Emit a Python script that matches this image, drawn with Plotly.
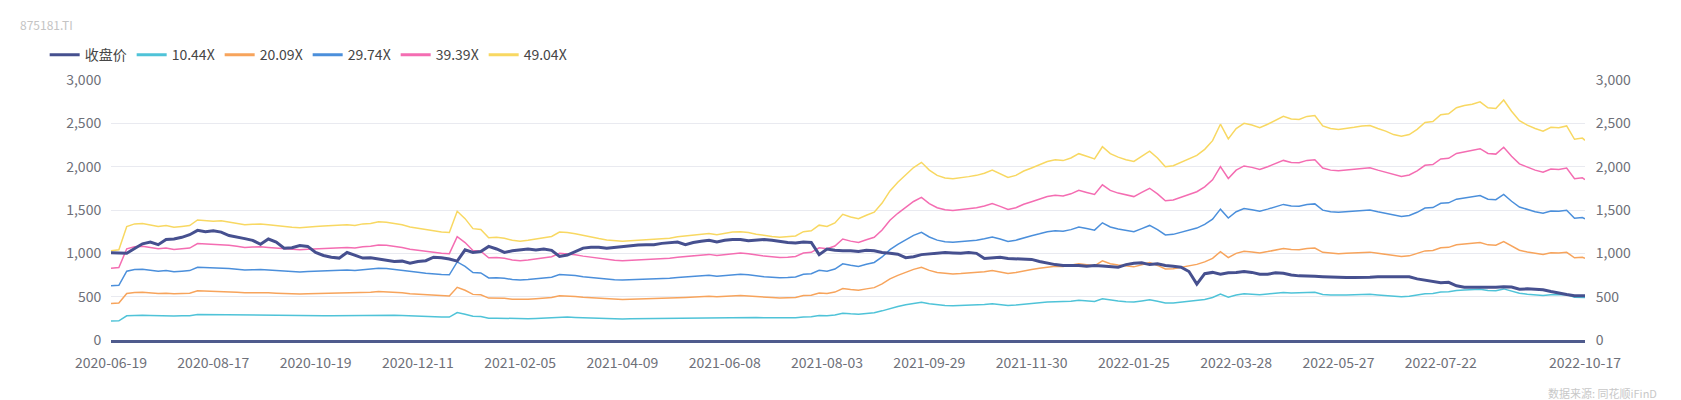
import pandas as pd
import plotly.graph_objects as go

# ---------------- data ----------------
title_text = "875181.TI"
source_text = "数据来源: 同花顺iFinD"

series_names = ["收盘价", "10.44X", "20.09X", "29.74X", "39.39X", "49.04X"]
pe_multiples = [10.44, 20.09, 29.74, 39.39, 49.04]

# Chinese market holidays (weekdays) inside the window
holidays = [
    "2020-06-25", "2020-06-26", "2020-10-01", "2020-10-02", "2020-10-05", "2020-10-06",
    "2020-10-07", "2020-10-08", "2021-01-01", "2021-02-11", "2021-02-12", "2021-02-15",
    "2021-02-16", "2021-02-17", "2021-04-05", "2021-05-03", "2021-05-04", "2021-05-05",
    "2021-06-14", "2021-09-20", "2021-09-21", "2021-10-01", "2021-10-04", "2021-10-05",
    "2021-10-06", "2021-10-07", "2022-01-03", "2022-01-31", "2022-02-01", "2022-02-02",
    "2022-02-03", "2022-02-04", "2022-04-04", "2022-04-05", "2022-05-02", "2022-05-03",
    "2022-05-04", "2022-06-03", "2022-09-12", "2022-10-03", "2022-10-04", "2022-10-05",
    "2022-10-06", "2022-10-07",
]

x_tick_labels = [
    "2020-06-19", "2020-08-17", "2020-10-19", "2020-12-11", "2021-02-05", "2021-04-09",
    "2021-06-08", "2021-08-03", "2021-09-29", "2021-11-30", "2022-01-25", "2022-03-28",
    "2022-05-27", "2022-07-22", "2022-10-17",
]
y_tick_values = [0, 500, 1000, 1500, 2000, 2500, 3000]

# readings taken every third trading day (plus the final day)
sample_step = 3

close = [
    1006, 1000, 1000, 1055, 1110, 1130, 1100, 1160, 1165, 1185,
    1215, 1265, 1250, 1260, 1245, 1205, 1190, 1170, 1150, 1105,
    1165, 1130, 1060, 1065, 1090, 1080, 1010, 975, 955, 945,
    1010, 975, 945, 950, 935, 925, 905, 910, 885, 905,
    915, 955, 950, 935, 910, 1040, 1010, 1020, 1080, 1050,
    1010, 1030, 1040, 1050, 1040, 1050, 1035, 965, 980, 1020,
    1060, 1070, 1070, 1060, 1070, 1080, 1090, 1095, 1100, 1100,
    1115, 1125, 1130, 1100, 1125, 1140, 1150, 1130, 1150, 1160,
    1160, 1145, 1150, 1160, 1150, 1135, 1125, 1120, 1130, 1125,
    985, 1050, 1035, 1030, 1030, 1020, 1035, 1030, 1010, 1000,
    990, 950, 960, 985, 995, 1000, 1010, 1005, 1000, 1010,
    1000, 940, 950, 955, 940, 935, 930, 930, 905, 885,
    870, 860, 860, 860, 850, 860, 855, 850, 840, 870,
    885, 890, 870, 880, 860, 850, 840, 790, 645, 765,
    780, 760, 775, 780, 790, 780, 760, 760, 775, 770,
    750, 740, 740, 735, 730, 725, 720, 720, 720, 720,
    725, 730, 730, 725, 730, 730, 705, 690, 670, 660,
    665, 625, 610, 610, 610, 605, 610, 615, 612, 585,
    590, 585, 580, 560, 540, 525, 510, 510,
    510,
]

# implied earnings per share behind the PE bands
eps = [
    21.00, 21.21, 26.71, 27.32, 27.43, 27.12, 26.71, 26.92, 26.51, 26.71,
    26.92, 28.24, 28.14, 27.94, 28.04, 27.73, 27.43, 27.12, 27.22, 27.32,
    27.12, 26.92, 26.61, 26.51, 26.41, 26.61, 26.71, 26.81, 26.92, 27.02,
    27.12, 26.92, 27.32, 27.43, 27.83, 27.73, 27.43, 27.12, 26.61, 26.31,
    25.90, 25.59, 25.39, 25.29, 30.28, 28.55, 26.20, 26.00, 24.06, 24.16,
    23.96, 23.45, 23.25, 23.45, 23.76, 24.06, 24.37, 25.39, 25.29, 24.98,
    24.57, 24.27, 23.86, 23.55, 23.35, 23.25, 23.35, 23.45, 23.55, 23.65,
    23.76, 23.96, 24.27, 24.47, 24.67, 24.98, 25.08, 24.78, 25.08, 25.39,
    25.49, 25.29, 24.88, 24.57, 24.37, 24.16, 24.27, 24.47, 25.49, 25.69,
    27.02, 26.71, 27.53, 29.57, 28.96, 28.55, 29.36, 30.08, 32.22, 35.07,
    37.11, 38.95, 40.58, 41.80, 39.97, 38.74, 38.13, 37.93, 38.13, 38.44,
    38.74, 39.25, 39.97, 39.15, 38.23, 38.74, 39.76, 40.48, 41.19, 42.01,
    42.41, 42.21, 42.82, 43.84, 43.23, 42.62, 45.47, 43.84, 43.03, 42.41,
    42.01, 43.23, 44.45, 42.82, 40.78, 40.99, 41.80, 42.62, 43.43, 44.86,
    46.90, 50.77, 47.31, 49.76, 50.98, 50.57, 49.96, 50.77, 51.79, 52.61,
    52.00, 51.90, 52.61, 52.81, 50.37, 49.76, 49.55, 49.76, 50.06, 50.37,
    50.47, 49.76, 49.14, 48.33, 47.92, 48.33, 49.55, 51.18, 51.39, 53.02,
    53.22, 54.65, 55.16, 55.46, 56.04, 54.65, 54.45, 56.48, 53.83, 51.59,
    50.57, 49.76, 49.14, 50.06, 49.96, 50.37, 47.23, 47.51,
    46.98,
]

colors = ["#46508f", "#4fc3d8", "#f7a45c", "#4b8fdb", "#f46db2", "#f8d862"]

# ---------------- build ----------------
trading_days = pd.bdate_range("2020-06-19", "2022-10-17", freq="C", holidays=holidays)
days = [d.strftime("%Y-%m-%d") for d in trading_days]
last = len(days) - 1
sample_idx = list(range(0, last, sample_step))
if sample_idx[-1] != last:
    sample_idx.append(last)
n = min(len(sample_idx), len(close), len(eps))
xs = [days[i] for i in sample_idx[:n]]

fig = go.Figure()

# legend entries (thick keys, like the original)
for k, name in enumerate(series_names):
    fig.add_trace(go.Scatter(
        x=[None], y=[None], name=name, mode="lines",
        line=dict(color=colors[k], width=3), showlegend=True, hoverinfo="skip",
    ))

for k, m in enumerate(pe_multiples):
    fig.add_trace(go.Scatter(
        x=xs, y=[e * m for e in eps[:n]], name=series_names[k + 1], mode="lines",
        line=dict(color=colors[k + 1], width=1.5), yaxis="y", showlegend=False,
    ))
fig.add_trace(go.Scatter(
    x=xs, y=close[:n], name=series_names[0], mode="lines",
    line=dict(color=colors[0], width=3), yaxis="y2", showlegend=False,
))

font_family = "Microsoft YaHei, Noto Sans CJK SC, Noto Sans, sans-serif"
axis_font = dict(family=font_family, size=14, color="#6e7079")

fig.update_layout(
    width=1681, height=400,
    margin=dict(l=103, r=104, t=72, b=68),
    paper_bgcolor="white", plot_bgcolor="white",
    font=dict(family=font_family),
    showlegend=True,
    legend=dict(
        orientation="h", x=-0.045, xanchor="left", y=1.096, yanchor="middle",
        font=dict(family=font_family, size=14, color="#464646"),
        itemwidth=30, traceorder="normal", bgcolor="rgba(0,0,0,0)",
    ),
    xaxis=dict(
        type="category", categoryorder="array", categoryarray=days,
        range=[0, last], tickmode="array", tickvals=x_tick_labels, ticktext=x_tick_labels,
        showgrid=False, showline=True, linecolor="#4f5b8d", linewidth=2.5,
        ticks="outside", ticklen=8, tickcolor="rgba(0,0,0,0)",
        tickfont=axis_font, tickangle=0, zeroline=False,
    ),
    yaxis=dict(
        range=[0, 3000], tickmode="array", tickvals=y_tick_values, tickformat=",",
        showgrid=True, gridcolor="#e9eaf0", gridwidth=1, zeroline=False,
        ticks="outside", ticklen=6, tickcolor="rgba(0,0,0,0)", tickfont=axis_font,
        showline=False,
    ),
    yaxis2=dict(
        range=[0, 3000], tickmode="array", tickvals=y_tick_values, tickformat=",",
        overlaying="y", side="right", showgrid=False, zeroline=False,
        ticks="outside", ticklen=7, tickcolor="rgba(0,0,0,0)", tickfont=axis_font,
        showline=False,
    ),
    annotations=[
        dict(text=title_text, xref="paper", yref="paper", x=-0.063, y=1.215,
             xanchor="left", yanchor="middle", showarrow=False,
             font=dict(family=font_family, size=12, color="#c4c4c4")),
        dict(text=source_text, xref="paper", yref="paper", x=1.05, y=-0.205,
             xanchor="right", yanchor="middle", showarrow=False,
             font=dict(family=font_family, size=11, color="#c8c8c8")),
    ],
)

fig.write_html("out.html")
